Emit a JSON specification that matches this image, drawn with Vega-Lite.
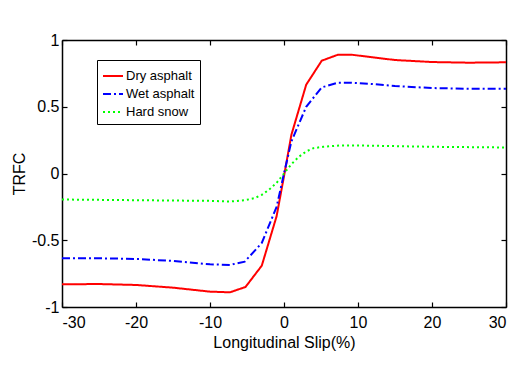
{
  "$schema": "https://vega.github.io/schema/vega-lite/v6.json",
  "width": 444,
  "height": 267,
  "autosize": "none",
  "padding": {"left": 62, "top": 40, "right": 23, "bottom": 69},
  "background": "white",
  "config": {
    "font": "Liberation Sans",
    "view": {"stroke": null},
    "axis": {
      "grid": false,
      "domainColor": "black",
      "domainWidth": 1.5,
      "tickColor": "black",
      "tickWidth": 1.2,
      "tickSize": -5,
      "labelColor": "black",
      "labelFont": "Liberation Sans",
      "labelFontSize": 16,
      "titleFont": "Liberation Sans",
      "titleFontSize": 16,
      "titleFontWeight": "normal",
      "titleColor": "black"
    }
  },
  "data": {
    "values": [
      {"s": -30, "t": -0.83, "surface": "Dry asphalt"},
      {"s": -25, "t": -0.828, "surface": "Dry asphalt"},
      {"s": -20, "t": -0.835, "surface": "Dry asphalt"},
      {"s": -15, "t": -0.855, "surface": "Dry asphalt"},
      {"s": -10, "t": -0.885, "surface": "Dry asphalt"},
      {"s": -7.3, "t": -0.89, "surface": "Dry asphalt"},
      {"s": -5.2, "t": -0.85, "surface": "Dry asphalt"},
      {"s": -3, "t": -0.69, "surface": "Dry asphalt"},
      {"s": -1, "t": -0.32, "surface": "Dry asphalt"},
      {"s": 0, "t": -0.02, "surface": "Dry asphalt"},
      {"s": 1, "t": 0.29, "surface": "Dry asphalt"},
      {"s": 3, "t": 0.665, "surface": "Dry asphalt"},
      {"s": 5.1, "t": 0.845, "surface": "Dry asphalt"},
      {"s": 7.3, "t": 0.89, "surface": "Dry asphalt"},
      {"s": 9.1, "t": 0.89, "surface": "Dry asphalt"},
      {"s": 12, "t": 0.87, "surface": "Dry asphalt"},
      {"s": 15, "t": 0.85, "surface": "Dry asphalt"},
      {"s": 20, "t": 0.835, "surface": "Dry asphalt"},
      {"s": 25, "t": 0.83, "surface": "Dry asphalt"},
      {"s": 30, "t": 0.833, "surface": "Dry asphalt"},
      {"s": -30, "t": -0.635, "surface": "Wet asphalt"},
      {"s": -25, "t": -0.635, "surface": "Wet asphalt"},
      {"s": -20, "t": -0.64, "surface": "Wet asphalt"},
      {"s": -15, "t": -0.655, "surface": "Wet asphalt"},
      {"s": -10, "t": -0.68, "surface": "Wet asphalt"},
      {"s": -7.3, "t": -0.685, "surface": "Wet asphalt"},
      {"s": -5.3, "t": -0.66, "surface": "Wet asphalt"},
      {"s": -3, "t": -0.52, "surface": "Wet asphalt"},
      {"s": -1, "t": -0.25, "surface": "Wet asphalt"},
      {"s": 0, "t": 0, "surface": "Wet asphalt"},
      {"s": 1, "t": 0.24, "surface": "Wet asphalt"},
      {"s": 3, "t": 0.5, "surface": "Wet asphalt"},
      {"s": 5.1, "t": 0.645, "surface": "Wet asphalt"},
      {"s": 7.3, "t": 0.68, "surface": "Wet asphalt"},
      {"s": 9.1, "t": 0.68, "surface": "Wet asphalt"},
      {"s": 12, "t": 0.67, "surface": "Wet asphalt"},
      {"s": 15, "t": 0.655, "surface": "Wet asphalt"},
      {"s": 20, "t": 0.64, "surface": "Wet asphalt"},
      {"s": 25, "t": 0.635, "surface": "Wet asphalt"},
      {"s": 30, "t": 0.635, "surface": "Wet asphalt"},
      {"s": -30, "t": -0.195, "surface": "Hard snow"},
      {"s": -20, "t": -0.2, "surface": "Hard snow"},
      {"s": -10, "t": -0.205, "surface": "Hard snow"},
      {"s": -7.3, "t": -0.21, "surface": "Hard snow"},
      {"s": -5.3, "t": -0.2, "surface": "Hard snow"},
      {"s": -4, "t": -0.185, "surface": "Hard snow"},
      {"s": -3, "t": -0.16, "surface": "Hard snow"},
      {"s": -2, "t": -0.12, "surface": "Hard snow"},
      {"s": -1, "t": -0.07, "surface": "Hard snow"},
      {"s": 0, "t": 0, "surface": "Hard snow"},
      {"s": 1, "t": 0.07, "surface": "Hard snow"},
      {"s": 2, "t": 0.125, "surface": "Hard snow"},
      {"s": 3, "t": 0.165, "surface": "Hard snow"},
      {"s": 4, "t": 0.19, "surface": "Hard snow"},
      {"s": 5.3, "t": 0.2, "surface": "Hard snow"},
      {"s": 7.5, "t": 0.21, "surface": "Hard snow"},
      {"s": 10, "t": 0.21, "surface": "Hard snow"},
      {"s": 15, "t": 0.205, "surface": "Hard snow"},
      {"s": 20, "t": 0.2, "surface": "Hard snow"},
      {"s": 30, "t": 0.195, "surface": "Hard snow"}
    ]
  },
  "layer": [
    {
      "mark": {"type": "line", "strokeWidth": 2},
      "encoding": {
        "x": {"field": "s", "type": "quantitative", "scale": {"domain": [-30, 30], "nice": false},
              "axis": {"orient": "bottom", "title": "Longitudinal Slip(%)", "values": [-30, -20, -10, 0, 10, 20, 30], "labelExpr": "toString(datum.value)", "labelPadding": 12, "titlePadding": 4}},
        "y": {"field": "t", "type": "quantitative", "scale": {"domain": [-1, 1], "nice": false},
              "axis": {"orient": "left", "title": "TRFC", "values": [-1, -0.5, 0, 0.5, 1], "labelExpr": "toString(datum.value)", "labelPadding": 8, "titlePadding": 4}},
        "color": {"field": "surface", "type": "nominal",
                  "scale": {"domain": ["Dry asphalt", "Wet asphalt", "Hard snow"], "range": ["#ff0000", "#0000ff", "#00ff00"]},
                  "legend": {"title": null, "orient": "none", "legendX": 35, "legendY": 20,
                             "strokeColor": "black", "fillColor": "white", "padding": 5,
                             "symbolType": "stroke", "symbolSize": 400, "symbolStrokeWidth": 2,
                             "labelFontSize": 13, "labelFont": "Liberation Sans", "labelColor": "black",
                             "rowPadding": -2, "labelOffset": 2}},
        "strokeDash": {"field": "surface", "type": "nominal",
                       "scale": {"domain": ["Dry asphalt", "Wet asphalt", "Hard snow"], "range": [[1, 0], [8, 3, 2, 3], [2, 3]]},
                       "legend": {"title": null, "orient": "none", "legendX": 35, "legendY": 20,
                             "strokeColor": "black", "fillColor": "white", "padding": 5,
                             "symbolType": "stroke", "symbolSize": 400, "symbolStrokeWidth": 2,
                             "labelFontSize": 13, "labelFont": "Liberation Sans", "labelColor": "black",
                             "rowPadding": -2, "labelOffset": 2}}
      }
    },
    {
      "mark": {"type": "point", "opacity": 0},
      "encoding": {
        "x": {"field": "s", "type": "quantitative", "scale": {"domain": [-30, 30], "nice": false},
              "axis": {"orient": "top", "title": null, "labels": false, "values": [-30, -20, -10, 0, 10, 20, 30]}},
        "y": {"field": "t", "type": "quantitative", "scale": {"domain": [-1, 1], "nice": false},
              "axis": {"orient": "right", "title": null, "labels": false, "values": [-1, -0.5, 0, 0.5, 1]}}
      }
    }
  ],
  "resolve": {"axis": {"x": "independent", "y": "independent"}}
}
